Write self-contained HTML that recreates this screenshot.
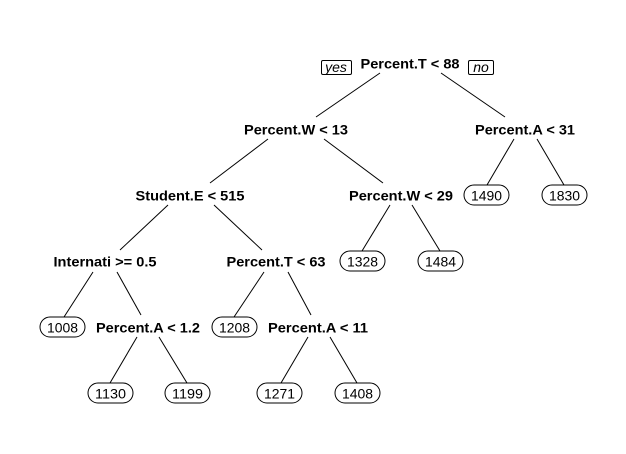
<!DOCTYPE html>
<html><head><meta charset="utf-8"><style>
html,body{margin:0;padding:0;background:#fff;}
svg{display:block;}
text{font-family:"Liberation Sans",Arial,sans-serif;font-size:14px;fill:#000;}
.b{font-weight:bold;}
</style></head><body>
<svg width="626" height="454" viewBox="0 0 626 454" xmlns="http://www.w3.org/2000/svg">
<g stroke="#000" stroke-width="1" fill="none">
<line x1="380" y1="73" x2="316" y2="117"/><line x1="441" y1="73" x2="505" y2="117"/>
<line x1="268" y1="139" x2="210" y2="183"/><line x1="324" y1="139" x2="383" y2="183"/>
<line x1="514" y1="139" x2="487" y2="185"/><line x1="537" y1="139" x2="564" y2="185"/>
<line x1="168" y1="205" x2="120" y2="250"/><line x1="214" y1="205" x2="262" y2="250"/>
<line x1="390" y1="205" x2="362" y2="251"/><line x1="412" y1="205" x2="440" y2="251"/>
<line x1="93" y1="272" x2="64" y2="317"/><line x1="117" y1="272" x2="141" y2="315"/>
<line x1="264" y1="272" x2="234" y2="317"/><line x1="288" y1="272" x2="311" y2="315"/>
<line x1="137" y1="337" x2="110" y2="383"/><line x1="159" y1="337" x2="187" y2="383"/>
<line x1="308" y1="337" x2="281" y2="383"/><line x1="330" y1="337" x2="357" y2="383"/>
<rect x="321.5" y="60.5" width="30" height="14" rx="1.5"/>
<rect x="468.5" y="60.5" width="25" height="14" rx="1.5"/>
<rect x="464" y="185" width="45" height="20" rx="10"/>
<rect x="542" y="185" width="45" height="20" rx="10"/>
<rect x="340" y="251" width="45" height="20" rx="10"/>
<rect x="418" y="251" width="45" height="20" rx="10"/>
<rect x="40" y="317" width="45" height="20" rx="10"/>
<rect x="212" y="317" width="45" height="20" rx="10"/>
<rect x="88" y="383" width="45" height="20" rx="10"/>
<rect x="165" y="383" width="45" height="20" rx="10"/>
<rect x="257" y="383" width="45" height="20" rx="10"/>
<rect x="335" y="383" width="45" height="20" rx="10"/>
</g>
<g text-anchor="middle">
<text x="336" y="72" font-style="italic" font-size="11">yes</text>
<text x="481" y="72" font-style="italic" font-size="11">no</text>
<text class="b" x="410" y="68.5" textLength="99" lengthAdjust="spacingAndGlyphs">Percent.T &lt; 88</text>
<text class="b" x="296" y="134.5" textLength="104" lengthAdjust="spacingAndGlyphs">Percent.W &lt; 13</text>
<text class="b" x="525" y="134.5" textLength="100" lengthAdjust="spacingAndGlyphs">Percent.A &lt; 31</text>
<text class="b" x="190" y="200.5" textLength="109" lengthAdjust="spacingAndGlyphs">Student.E &lt; 515</text>
<text class="b" x="401" y="200.5" textLength="104" lengthAdjust="spacingAndGlyphs">Percent.W &lt; 29</text>
<text class="b" x="105" y="266.5" textLength="103" lengthAdjust="spacingAndGlyphs">Internati &gt;= 0.5</text>
<text class="b" x="276" y="266.5" textLength="99" lengthAdjust="spacingAndGlyphs">Percent.T &lt; 63</text>
<text class="b" x="148" y="332.5" textLength="104" lengthAdjust="spacingAndGlyphs">Percent.A &lt; 1.2</text>
<text class="b" x="318" y="332.5" textLength="100" lengthAdjust="spacingAndGlyphs">Percent.A &lt; 11</text>
<g>
<text x="486.5" y="200.5" textLength="31" lengthAdjust="spacingAndGlyphs">1490</text>
<text x="564.5" y="200.5" textLength="31" lengthAdjust="spacingAndGlyphs">1830</text>
<text x="362.5" y="266.5" textLength="31" lengthAdjust="spacingAndGlyphs">1328</text>
<text x="440.5" y="266.5" textLength="31" lengthAdjust="spacingAndGlyphs">1484</text>
<text x="62.5" y="332.5" textLength="31" lengthAdjust="spacingAndGlyphs">1008</text>
<text x="234.5" y="332.5" textLength="31" lengthAdjust="spacingAndGlyphs">1208</text>
<text x="110.5" y="398.5" textLength="31" lengthAdjust="spacingAndGlyphs">1130</text>
<text x="187.5" y="398.5" textLength="31" lengthAdjust="spacingAndGlyphs">1199</text>
<text x="279.5" y="398.5" textLength="31" lengthAdjust="spacingAndGlyphs">1271</text>
<text x="357.5" y="398.5" textLength="31" lengthAdjust="spacingAndGlyphs">1408</text>
</g>
</g>
</svg>
</body></html>
